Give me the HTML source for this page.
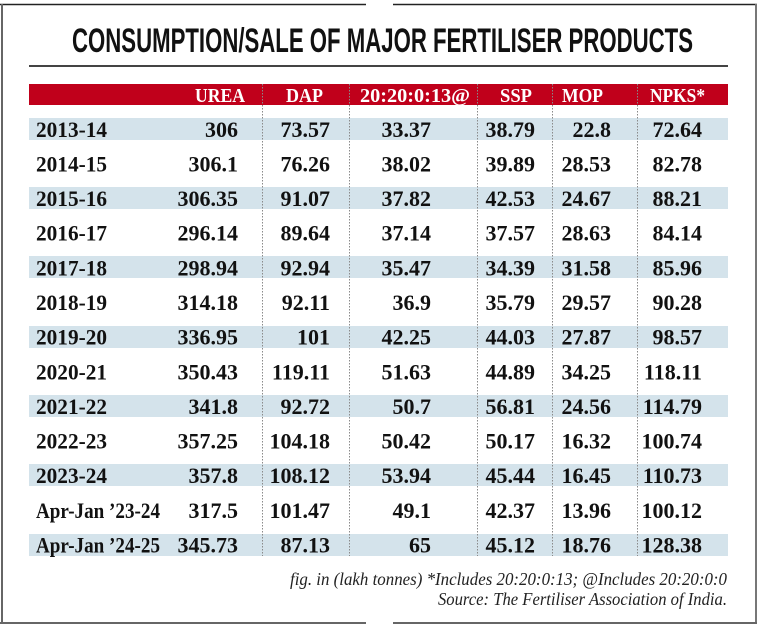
<!DOCTYPE html>
<html>
<head>
<meta charset="utf-8">
<style>
  html,body{margin:0;padding:0;background:#fff;}
  svg{display:block;}
  .lbl{font-family:"Liberation Serif",serif;font-weight:bold;font-size:22px;fill:#111;}
  .val{font-family:"Liberation Serif",serif;font-weight:bold;font-size:22px;fill:#111;text-anchor:end;}
  .hdr{font-family:"Liberation Serif",serif;font-weight:bold;font-size:20px;fill:#fff;}
  .ttl{font-family:"Liberation Sans",sans-serif;font-weight:bold;font-size:34px;fill:#111;}
  .ft{font-family:"Liberation Serif",serif;font-style:italic;font-size:18px;fill:#222;text-anchor:end;}
</style>
</head>
<body>
<svg width="759" height="628" viewBox="0 0 759 628" xmlns="http://www.w3.org/2000/svg">
  <rect x="0" y="0" width="759" height="628" fill="#fff"/>
  <!-- frame -->
  <line x1="0" y1="4.5" x2="366" y2="4.5" stroke="#222" stroke-width="1.5"/>
  <line x1="393" y1="4.5" x2="757" y2="4.5" stroke="#222" stroke-width="1.5"/>
  <line x1="2" y1="4" x2="2" y2="624" stroke="#666" stroke-width="2"/>
  <line x1="756" y1="4" x2="756" y2="624" stroke="#777" stroke-width="2"/>
  <line x1="0" y1="623" x2="366" y2="623" stroke="#666" stroke-width="2"/>
  <line x1="393" y1="623" x2="757" y2="623" stroke="#666" stroke-width="2"/>

  <!-- title -->
  <text class="ttl" x="72" y="52" textLength="621" lengthAdjust="spacingAndGlyphs">CONSUMPTION/SALE OF MAJOR FERTILISER PRODUCTS</text>
  <line x1="29" y1="66" x2="728" y2="66" stroke="#444" stroke-width="2"/>

  <!-- header bar -->
  <rect x="29" y="84" width="699" height="21" fill="#c0001b"/>
  <text class="hdr" x="195" y="102" textLength="50" lengthAdjust="spacingAndGlyphs">UREA</text>
  <text class="hdr" x="286" y="102" textLength="37" lengthAdjust="spacingAndGlyphs">DAP</text>
  <text class="hdr" x="360" y="102" textLength="110" lengthAdjust="spacingAndGlyphs">20:20:0:13@</text>
  <text class="hdr" x="500" y="102" textLength="32" lengthAdjust="spacingAndGlyphs">SSP</text>
  <text class="hdr" x="562" y="102" textLength="41" lengthAdjust="spacingAndGlyphs">MOP</text>
  <text class="hdr" x="650" y="102" textLength="55" lengthAdjust="spacingAndGlyphs">NPKS*</text>

  <!-- bands -->
  <g fill="#d4e3eb">
    <rect x="29" y="118" width="699" height="22"/>
    <rect x="29" y="187" width="699" height="22"/>
    <rect x="29" y="256" width="699" height="22"/>
    <rect x="29" y="326" width="699" height="22"/>
    <rect x="29" y="395" width="699" height="22"/>
    <rect x="29" y="464" width="699" height="22"/>
    <rect x="29" y="534" width="699" height="22"/>
  </g>

  <!-- dividers -->
  <g stroke="#8a8a8a" stroke-width="1" stroke-dasharray="1.5 1.5">
    <line x1="262.5" y1="84" x2="262.5" y2="556"/>
    <line x1="349.5" y1="84" x2="349.5" y2="556"/>
    <line x1="477.5" y1="84" x2="477.5" y2="556"/>
    <line x1="552.5" y1="84" x2="552.5" y2="556"/>
    <line x1="637.5" y1="84" x2="637.5" y2="556"/>
  </g>

  <!-- rows -->
  <g>
    <text class="lbl" x="36" y="137" textLength="71" lengthAdjust="spacingAndGlyphs">2013-14</text>
    <text class="val" x="238" y="137">306</text><text class="val" x="330" y="137">73.57</text><text class="val" x="431" y="137">33.37</text><text class="val" x="535" y="137">38.79</text><text class="val" x="611" y="137">22.8</text><text class="val" x="702" y="137">72.64</text>

    <text class="lbl" x="36" y="171.5" textLength="71" lengthAdjust="spacingAndGlyphs">2014-15</text>
    <text class="val" x="238" y="171.5">306.1</text><text class="val" x="330" y="171.5">76.26</text><text class="val" x="431" y="171.5">38.02</text><text class="val" x="535" y="171.5">39.89</text><text class="val" x="611" y="171.5">28.53</text><text class="val" x="702" y="171.5">82.78</text>

    <text class="lbl" x="36" y="206" textLength="71" lengthAdjust="spacingAndGlyphs">2015-16</text>
    <text class="val" x="238" y="206">306.35</text><text class="val" x="330" y="206">91.07</text><text class="val" x="431" y="206">37.82</text><text class="val" x="535" y="206">42.53</text><text class="val" x="611" y="206">24.67</text><text class="val" x="702" y="206">88.21</text>

    <text class="lbl" x="36" y="240.5" textLength="71" lengthAdjust="spacingAndGlyphs">2016-17</text>
    <text class="val" x="238" y="240.5">296.14</text><text class="val" x="330" y="240.5">89.64</text><text class="val" x="431" y="240.5">37.14</text><text class="val" x="535" y="240.5">37.57</text><text class="val" x="611" y="240.5">28.63</text><text class="val" x="702" y="240.5">84.14</text>

    <text class="lbl" x="36" y="275.5" textLength="71" lengthAdjust="spacingAndGlyphs">2017-18</text>
    <text class="val" x="238" y="275.5">298.94</text><text class="val" x="330" y="275.5">92.94</text><text class="val" x="431" y="275.5">35.47</text><text class="val" x="535" y="275.5">34.39</text><text class="val" x="611" y="275.5">31.58</text><text class="val" x="702" y="275.5">85.96</text>

    <text class="lbl" x="36" y="310" textLength="71" lengthAdjust="spacingAndGlyphs">2018-19</text>
    <text class="val" x="238" y="310">314.18</text><text class="val" x="330" y="310">92.11</text><text class="val" x="431" y="310">36.9</text><text class="val" x="535" y="310">35.79</text><text class="val" x="611" y="310">29.57</text><text class="val" x="702" y="310">90.28</text>

    <text class="lbl" x="36" y="344.5" textLength="71" lengthAdjust="spacingAndGlyphs">2019-20</text>
    <text class="val" x="238" y="344.5">336.95</text><text class="val" x="330" y="344.5">101</text><text class="val" x="431" y="344.5">42.25</text><text class="val" x="535" y="344.5">44.03</text><text class="val" x="611" y="344.5">27.87</text><text class="val" x="702" y="344.5">98.57</text>

    <text class="lbl" x="36" y="379.5" textLength="71" lengthAdjust="spacingAndGlyphs">2020-21</text>
    <text class="val" x="238" y="379.5">350.43</text><text class="val" x="330" y="379.5">119.11</text><text class="val" x="431" y="379.5">51.63</text><text class="val" x="535" y="379.5">44.89</text><text class="val" x="611" y="379.5">34.25</text><text class="val" x="702" y="379.5">118.11</text>

    <text class="lbl" x="36" y="414" textLength="71" lengthAdjust="spacingAndGlyphs">2021-22</text>
    <text class="val" x="238" y="414">341.8</text><text class="val" x="330" y="414">92.72</text><text class="val" x="431" y="414">50.7</text><text class="val" x="535" y="414">56.81</text><text class="val" x="611" y="414">24.56</text><text class="val" x="702" y="414">114.79</text>

    <text class="lbl" x="36" y="448.5" textLength="71" lengthAdjust="spacingAndGlyphs">2022-23</text>
    <text class="val" x="238" y="448.5">357.25</text><text class="val" x="330" y="448.5">104.18</text><text class="val" x="431" y="448.5">50.42</text><text class="val" x="535" y="448.5">50.17</text><text class="val" x="611" y="448.5">16.32</text><text class="val" x="702" y="448.5">100.74</text>

    <text class="lbl" x="36" y="483" textLength="71" lengthAdjust="spacingAndGlyphs">2023-24</text>
    <text class="val" x="238" y="483">357.8</text><text class="val" x="330" y="483">108.12</text><text class="val" x="431" y="483">53.94</text><text class="val" x="535" y="483">45.44</text><text class="val" x="611" y="483">16.45</text><text class="val" x="702" y="483">110.73</text>

    <text class="lbl" x="36" y="518" textLength="124" lengthAdjust="spacingAndGlyphs">Apr-Jan ’23-24</text>
    <text class="val" x="238" y="518">317.5</text><text class="val" x="330" y="518">101.47</text><text class="val" x="431" y="518">49.1</text><text class="val" x="535" y="518">42.37</text><text class="val" x="611" y="518">13.96</text><text class="val" x="702" y="518">100.12</text>

    <text class="lbl" x="36" y="552.5" textLength="124" lengthAdjust="spacingAndGlyphs">Apr-Jan ’24-25</text>
    <text class="val" x="238" y="552.5">345.73</text><text class="val" x="330" y="552.5">87.13</text><text class="val" x="431" y="552.5">65</text><text class="val" x="535" y="552.5">45.12</text><text class="val" x="611" y="552.5">18.76</text><text class="val" x="702" y="552.5">128.38</text>
  </g>

  <!-- footer -->
  <text class="ft" x="727" y="585" textLength="437" lengthAdjust="spacingAndGlyphs">fig. in (lakh tonnes) *Includes 20:20:0:13; @Includes 20:20:0:0</text>
  <text class="ft" x="727" y="605" textLength="289" lengthAdjust="spacingAndGlyphs">Source: The Fertiliser Association of India.</text>
</svg>
</body>
</html>
